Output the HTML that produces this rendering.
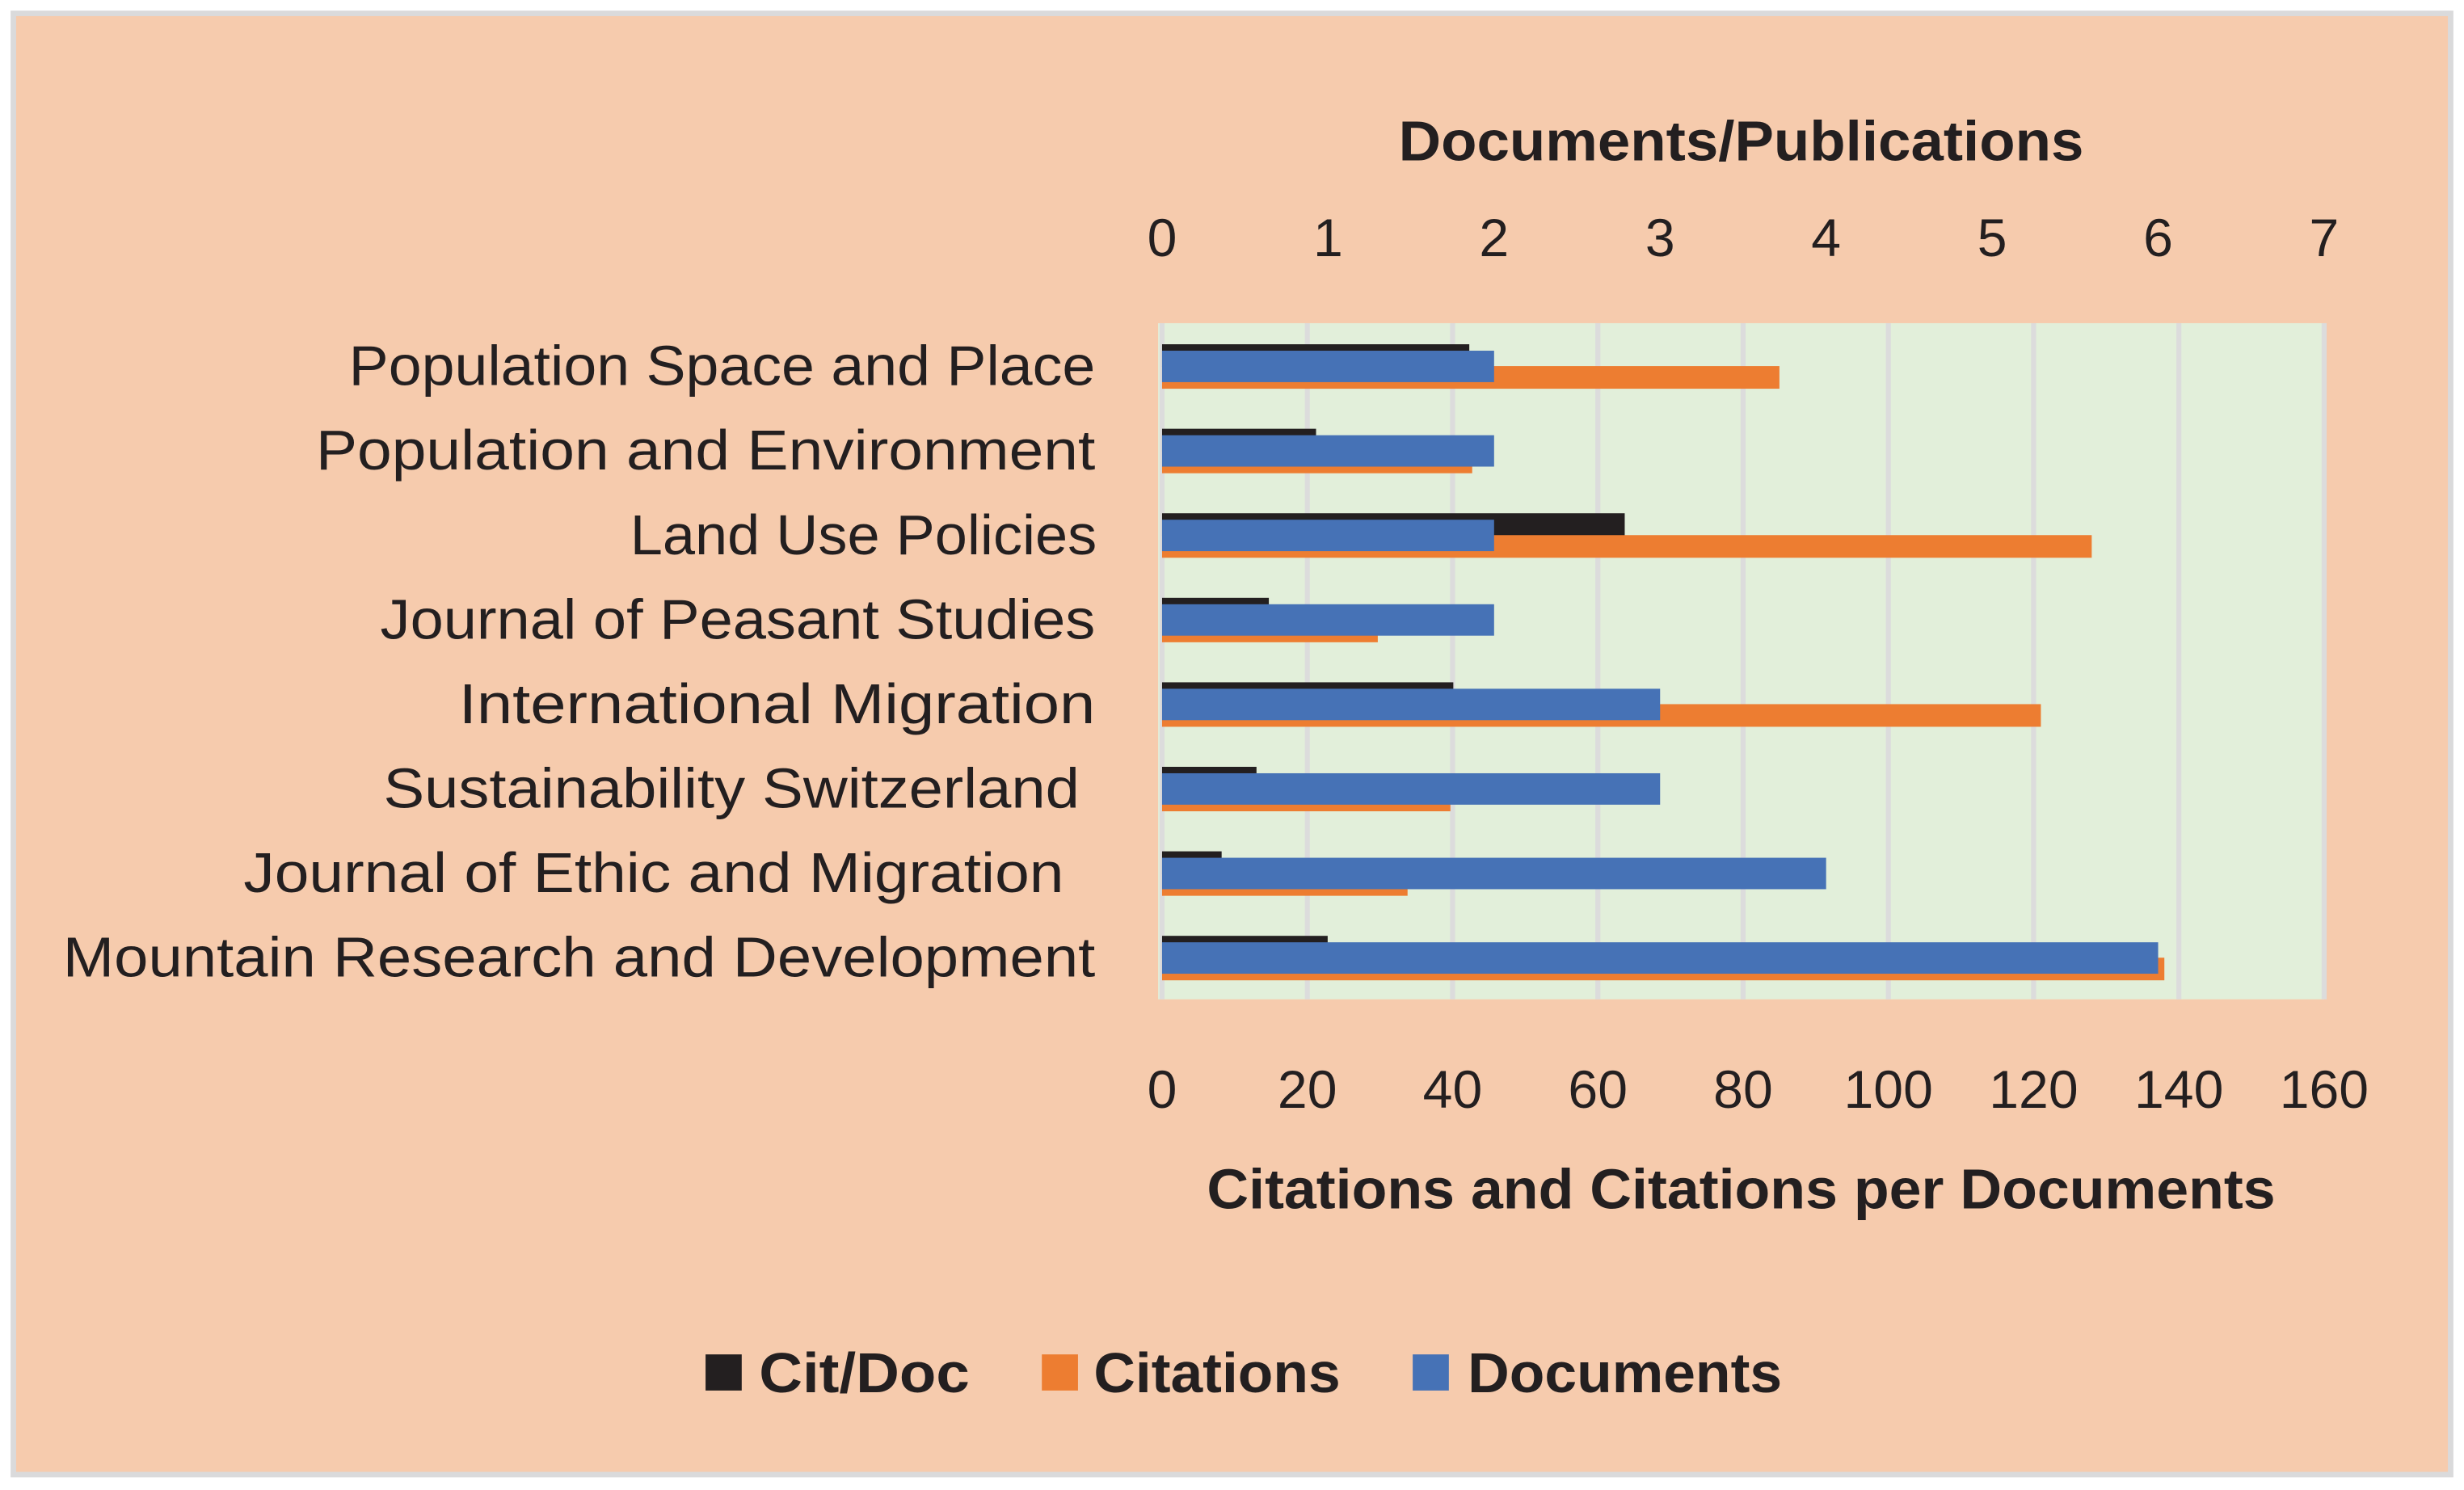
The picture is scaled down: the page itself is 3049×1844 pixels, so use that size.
<!DOCTYPE html>
<html><head><meta charset="utf-8"><style>
html,body{margin:0;padding:0;background:#fff;}
svg{display:block;}
text{font-family:"Liberation Sans",sans-serif;fill:#231f20;}
</style></head><body>
<svg id="chart" width="3049" height="1844" viewBox="0 0 1568 948.3" preserveAspectRatio="none" xmlns="http://www.w3.org/2000/svg">
<rect x="8.5" y="8.5" width="1551" height="930" fill="#f6cbad" stroke="#dadadb" stroke-width="3.5"/>
<rect x="737" y="205.7" width="742" height="430.3" fill="#e2efda"/>
<g id="grid"></g>
<g id="bars"></g>
<g id="labels"></g>
<text x="1108" y="102" text-anchor="middle" font-weight="bold" font-size="36" textLength="436" lengthAdjust="spacingAndGlyphs">Documents/Publications</text>
<text x="1108" y="769" text-anchor="middle" font-weight="bold" font-size="36" textLength="680" lengthAdjust="spacingAndGlyphs">Citations and Citations per Documents</text>
<g>
<rect x="449" y="862" width="23" height="23" fill="#231f20"/>
<text x="483" y="886" font-weight="bold" font-size="36" textLength="134" lengthAdjust="spacingAndGlyphs">Cit/Doc</text>
<rect x="663" y="862" width="23" height="23" fill="#ed7d31"/>
<text x="696" y="886" font-weight="bold" font-size="36" textLength="157" lengthAdjust="spacingAndGlyphs">Citations</text>
<rect x="899" y="862" width="23" height="23" fill="#4672b6"/>
<text x="934" y="886" font-weight="bold" font-size="36" textLength="200" lengthAdjust="spacingAndGlyphs">Documents</text>
</g>
</svg>
<script>
const categories = ["Population Space and Place","Population and Environment","Land Use Policies","Journal of Peasant Studies","International Migration","Sustainability Switzerland ","Journal of Ethic and Migration ","Mountain Research and Development"];
const citDoc = [42.3, 21.2, 63.7, 14.7, 40.1, 13, 8.2, 22.8];
const citations = [85, 42.7, 128, 29.7, 121, 39.7, 33.8, 138];
const documents = [2, 2, 2, 2, 3, 3, 4, 6];
const bottomTicks = [0,20,40,60,80,100,120,140,160];
const topTicks = [0,1,2,3,4,5,6,7];

const NS = "http://www.w3.org/2000/svg";
const X0 = 739.5, X1 = 1479;
const Y0 = 205.7, Y1 = 636;
const xCit = v => X0 + (v/160)*(X1-X0);
const xDoc = v => X0 + (v/7)*(X1-X0);
const band = (Y1-Y0)/categories.length;
const yBand = i => Y0 + i*band;

function mk(tag, attrs, parent){const e=document.createElementNS(NS,tag);for(const k in attrs)e.setAttribute(k,attrs[k]);parent.appendChild(e);return e;}

const grid = document.getElementById('grid');
bottomTicks.forEach(t=>{
  const l = mk('rect',{x:xCit(t)-1.6,y:Y0,width:3.2,height:Y1-Y0,fill:'#dcdcdc'},grid);
  
  
});

const bars = document.getElementById('bars');
categories.forEach((c,i)=>{
  const yb = yBand(i);
  const b1 = mk('rect',{x:X0,y:yb+13.4,width:xCit(citDoc[i])-X0,height:14.4,fill:'#231f20'},bars);
  
  
  const b2 = mk('rect',{x:X0,y:yb+27.3,width:xCit(citations[i])-X0,height:14.4,fill:'#ed7d31'},bars);
  
  
  const b3 = mk('rect',{x:X0,y:yb+17.5,width:xDoc(documents[i])-X0,height:20,fill:'#4672b6'},bars);
  
  
});

const labels = document.getElementById('labels');
const labelStart = [222,201,401,242,292,244,155,40];
const labelWidth = [475,496,297,455,405,443,522,657];
categories.forEach((c,i)=>{
  const t = mk('text',{x:labelStart[i],y:yBand(i)+band/2+12.5,'font-size':36,textLength:labelWidth[i],lengthAdjust:'spacingAndGlyphs'},labels);
  t.textContent = c.trim();
  
  
});
bottomTicks.forEach(t=>{
  const e = mk('text',{x:xCit(t),y:705,'text-anchor':'middle','font-size':34},labels);
  e.textContent = t;
  
  
});
topTicks.forEach(t=>{
  const e = mk('text',{x:xDoc(t),y:163,'text-anchor':'middle','font-size':34},labels);
  e.textContent = t;
  
  
});
</script>
</body></html>
